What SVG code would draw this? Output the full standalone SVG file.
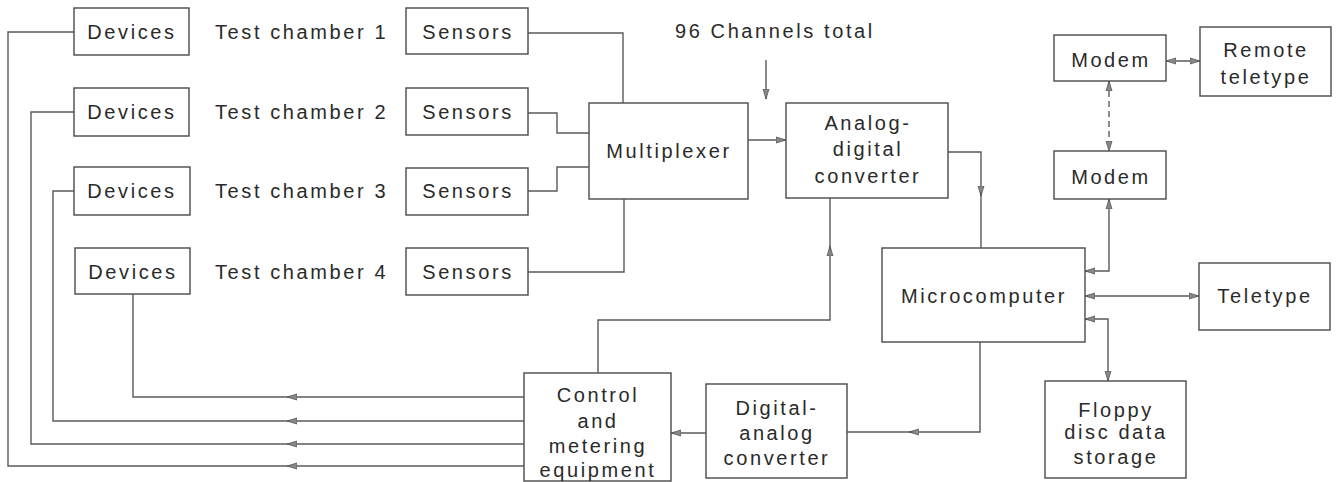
<svg xmlns="http://www.w3.org/2000/svg" width="1339" height="482" viewBox="0 0 1339 482">
<style>
.box{fill:#fff;stroke:#555;stroke-width:1.5}
.t{font-family:"Liberation Sans",Arial,sans-serif;font-size:20px;fill:#2a2a2a;letter-spacing:2.6px;text-anchor:middle}
.ts{text-anchor:start}
.c{fill:none;stroke:#5a5a5a;stroke-width:1.4}
.d{stroke-dasharray:6 4}
.a{marker-end:url(#ah)}
.b{marker-start:url(#ah);marker-end:url(#ah)}
</style>
<defs>
<marker id="ah" markerUnits="userSpaceOnUse" markerWidth="12" markerHeight="8" refX="10" refY="4" orient="auto-start-reverse">
<path d="M0,1 L10,4 L0,7 z" fill="#888" stroke="#555" stroke-width="0.8"/>
</marker>
</defs>
<rect width="1339" height="482" fill="#fff"/>
<g id="connectors">
<path class="c a" d="M524,397 H287"/><path class="c" d="M287,397 H133 V294"/>
<path class="c a" d="M524,421 H287"/><path class="c" d="M287,421 H53 V191 H74"/>
<path class="c a" d="M524,444 H287"/><path class="c" d="M287,444 H31 V112 H74"/>
<path class="c a" d="M524,466 H287"/><path class="c" d="M287,466 H8 V32 H74"/>
<path class="c" d="M528,33 H623 V103"/>
<path class="c" d="M528,113 H557 V133 H589"/>
<path class="c" d="M528,191 H557 V167 H589"/>
<path class="c" d="M528,272 H624 V199"/>
<path class="c a" d="M748,140 H786"/>
<path class="c a" d="M766,60 V99"/>
<path class="c a" d="M948,152 H981 V196"/><path class="c" d="M981,192 V248"/>
<path class="c a" d="M598,373 V320 H830 V246"/><path class="c" d="M830,250 V198"/>
<path class="c a" d="M980,342 V432 H909"/><path class="c" d="M913,432 H847"/>
<path class="c a" d="M706,433 H671"/>
<path class="c b" d="M1085,271 H1109 V199"/>
<path class="c b" d="M1085,296 H1199"/>
<path class="c b" d="M1085,319 H1108 V381"/>
<path class="c d b" d="M1109,81 V151"/>
<path class="c b" d="M1166,61 H1200"/>
</g>
<g id="devices1"><rect class="box" x="74" y="8" width="115" height="47"/><text class="t" x="132" y="39">Devices</text></g>
<g id="devices2"><rect class="box" x="74" y="88" width="115" height="48"/><text class="t" x="132" y="119">Devices</text></g>
<g id="devices3"><rect class="box" x="74" y="167" width="116" height="48"/><text class="t" x="132" y="198">Devices</text></g>
<g id="devices4"><rect class="box" x="75" y="248" width="115" height="46"/><text class="t" x="133" y="279">Devices</text></g>
<g id="label1"><text class="t ts" x="215" y="39">Test chamber  1</text></g>
<g id="label2"><text class="t ts" x="215" y="119">Test chamber 2</text></g>
<g id="label3"><text class="t ts" x="215" y="198">Test chamber 3</text></g>
<g id="label4"><text class="t ts" x="215" y="279">Test chamber 4</text></g>
<g id="sensors1"><rect class="box" x="406" y="8" width="122" height="46"/><text class="t" x="468" y="39">Sensors</text></g>
<g id="sensors2"><rect class="box" x="406" y="88" width="122" height="47"/><text class="t" x="468" y="119">Sensors</text></g>
<g id="sensors3"><rect class="box" x="406" y="168" width="122" height="47"/><text class="t" x="468" y="198">Sensors</text></g>
<g id="sensors4"><rect class="box" x="406" y="248" width="122" height="47"/><text class="t" x="468" y="279">Sensors</text></g>
<g id="multiplexer"><rect class="box" x="589" y="103" width="159" height="96"/><text class="t" x="669" y="158">Multiplexer</text></g>
<g id="channels"><text class="t ts" x="675" y="38">96 Channels total</text></g>
<g id="adc"><rect class="box" x="786" y="103" width="162" height="95"/><text class="t" x="868" y="130">Analog-</text><text class="t" x="868" y="156">digital</text><text class="t" x="868" y="183">converter</text></g>
<g id="control"><rect class="box" x="524" y="373" width="147" height="108"/><text class="t" x="598" y="402">Control</text><text class="t" x="598" y="428">and</text><text class="t" x="598" y="453">metering</text><text class="t" x="598" y="477">equipment</text></g>
<g id="dac"><rect class="box" x="706" y="384" width="141" height="94"/><text class="t" x="777" y="415">Digital-</text><text class="t" x="777" y="440">analog</text><text class="t" x="777" y="465">converter</text></g>
<g id="microcomputer"><rect class="box" x="882" y="248" width="203" height="94"/><text class="t" x="984" y="303">Microcomputer</text></g>
<g id="teletype"><rect class="box" x="1199" y="263" width="131" height="67"/><text class="t" x="1265" y="303">Teletype</text></g>
<g id="floppy"><rect class="box" x="1045" y="381" width="141" height="97"/><text class="t" x="1116" y="417">Floppy</text><text class="t" x="1116" y="439">disc data</text><text class="t" x="1116" y="464">storage</text></g>
<g id="modem1"><rect class="box" x="1054" y="35" width="112" height="46"/><text class="t" x="1111" y="67">Modem</text></g>
<g id="modem2"><rect class="box" x="1054" y="151" width="112" height="48"/><text class="t" x="1111" y="184">Modem</text></g>
<g id="remote"><rect class="box" x="1200" y="27" width="131" height="69"/><text class="t" x="1266" y="57">Remote</text><text class="t" x="1266" y="84">teletype</text></g>
</svg>
